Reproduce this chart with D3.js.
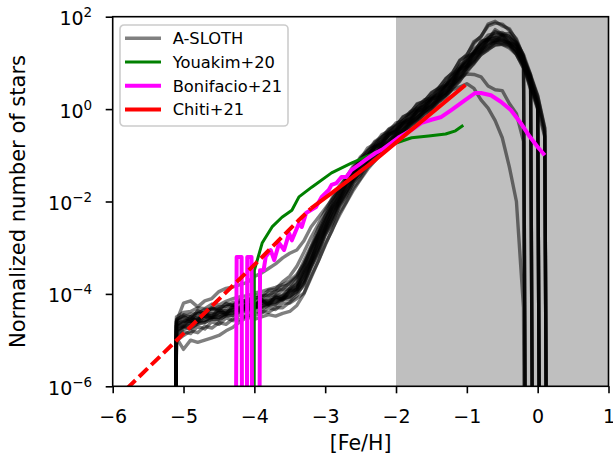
<!DOCTYPE html>
<html lang="en">
<head><meta charset="utf-8"/>
<style>
body { margin: 0; background: #fff; }
text { font-family: "DejaVu Sans", sans-serif; fill: #000; }
.sloth {
	fill: none;
	stroke: #000;
	stroke-opacity: 0.5;
	stroke-width: 3.4px;
	stroke-linejoin: round;
}
.obs { fill: none; stroke-linejoin: round; }
</style>
</head>
<body>
<svg id="chart" width="613" height="460"></svg>

<script src="https://cdn.jsdelivr.net/npm/d3@7"></script>
<script>

// bin centres of the A-SLOTH MDFs, [Fe/H]
var feh = [
	-5.2,-5.1,-5.0,-4.9,-4.8,-4.7,-4.6,-4.5,-4.4,-4.3,
	-4.2,-4.1,-4.0,-3.9,-3.8,-3.7,-3.6,-3.5,-3.4,-3.3,
	-3.2,-3.1,-3.0,-2.9,-2.8,-2.7,-2.6,-2.5,-2.4,-2.3,
	-2.2,-2.1,-2.0,-1.9,-1.8,-1.7,-1.6,-1.5,-1.4,-1.3,
	-1.2,-1.1,-1.0,-0.9,-0.8,-0.7,-0.6,-0.5,-0.4,-0.3,
	-0.2,-0.1,0.0,0.1,0.2];

// log10(normalized number of stars) per realisation, -30 = empty bin
var run01 = [-30,-4.6,-4.52,-4.55,-4.42,-4.45,-4.32,-4.38,-4.28,-4.25,
	-4.18,-4.22,-4.12,-4.15,-4.05,-4.02,-3.92,-3.88,-3.7,-3.42,
	-3.02,-2.72,-2.32,-2.08,-1.75,-1.55,-1.28,-1.12,-0.9,-0.8,
	-0.6,-0.52,-0.36,-0.3,-0.1,-0.02,0.14,0.22,0.4,0.5,
	0.72,0.86,1.1,1.22,1.45,1.52,1.68,1.6,1.58,1.38,
	1.12,-30,-30,-30,-30];
var run02 = [-30,-4.88,-4.72,-4.75,-4.65,-4.62,-4.55,-4.55,-4.48,-4.47,
	-4.38,-4.4,-4.3,-4.33,-4.25,-4.24,-4.12,-4.12,-3.98,-3.82,
	-3.42,-3.14,-2.72,-2.48,-2.1,-1.88,-1.58,-1.42,-1.18,-1.05,
	-0.86,-0.75,-0.58,-0.5,-0.33,-0.22,-0.06,0.02,0.2,0.3,
	0.5,0.65,0.9,1.02,1.22,1.32,1.45,1.42,1.4,1.18,
	0.88,-30,-30,-30,-30];
var run03 = [-30,-4.7,-4.6,-4.57,-4.56,-4.46,-4.52,-4.4,-4.4,-4.34,
	-4.3,-4.28,-4.24,-4.16,-4.21,-4.08,-4.1,-3.93,-3.84,-3.52,
	-3.22,-2.82,-2.52,-2.18,-1.92,-1.62,-1.44,-1.2,-1.02,-0.83,
	-0.72,-0.56,-0.47,-0.3,-0.22,-0.03,0.06,0.22,0.3,0.5,
	0.63,0.87,1.0,1.22,1.36,1.52,1.56,1.6,1.48,1.36,
	1.02,0.62,-30,-30,-30];
var run04 = [-30,-4.8,-4.68,-4.64,-4.58,-4.57,-4.5,-4.52,-4.43,-4.4,
	-4.33,-4.32,-4.28,-4.27,-4.2,-4.17,-4.08,-4.04,-3.88,-3.7,
	-3.3,-3.0,-2.6,-2.34,-1.98,-1.77,-1.48,-1.32,-1.08,-0.97,
	-0.78,-0.7,-0.53,-0.44,-0.28,-0.17,0.0,0.08,0.26,0.36,
	0.57,0.73,0.94,1.08,1.3,1.38,1.5,1.48,1.44,1.26,
	0.97,0.42,-30,-30,-30];
var run05 = [-30,-4.72,-4.62,-4.6,-4.54,-4.48,-4.47,-4.4,-4.42,-4.3,
	-4.32,-4.23,-4.24,-4.16,-4.17,-4.08,-4.04,-3.9,-3.8,-3.48,
	-3.17,-2.78,-2.47,-2.13,-1.9,-1.6,-1.42,-1.16,-1.02,-0.83,
	-0.74,-0.56,-0.47,-0.33,-0.24,-0.06,0.03,0.2,0.28,0.47,
	0.6,0.84,0.98,1.2,1.33,1.5,1.53,1.57,1.46,1.34,
	1.03,0.62,0.12,-30,-30];
var run06 = [-30,-4.92,-4.76,-4.74,-4.63,-4.62,-4.53,-4.57,-4.46,-4.47,
	-4.36,-4.37,-4.28,-4.3,-4.23,-4.22,-4.1,-4.07,-3.93,-3.77,
	-3.38,-3.07,-2.68,-2.4,-2.06,-1.82,-1.53,-1.37,-1.13,-1.0,
	-0.8,-0.72,-0.56,-0.47,-0.3,-0.2,-0.03,0.06,0.24,0.33,
	0.54,0.7,0.92,1.06,1.27,1.36,1.47,1.46,1.44,1.26,
	1.02,0.56,0.07,-30,-30];
var run07 = [-30,-4.64,-4.6,-4.5,-4.52,-4.43,-4.42,-4.36,-4.37,-4.28,
	-4.27,-4.2,-4.22,-4.13,-4.14,-4.03,-4.02,-3.88,-3.77,-3.43,
	-3.12,-2.73,-2.42,-2.08,-1.84,-1.56,-1.37,-1.13,-1.0,-0.8,
	-0.7,-0.53,-0.44,-0.28,-0.2,0.0,0.08,0.24,0.33,0.52,
	0.66,0.9,1.03,1.24,1.38,1.54,1.6,1.62,1.53,1.42,
	1.1,0.72,0.23,-0.48,-30];
var run08 = [-30,-4.78,-4.71,-4.63,-4.62,-4.5,-4.52,-4.46,-4.44,-4.38,
	-4.34,-4.3,-4.3,-4.2,-4.22,-4.13,-4.1,-3.98,-3.9,-3.6,
	-3.3,-2.9,-2.6,-2.26,-2.0,-1.7,-1.5,-1.26,-1.1,-0.9,
	-0.8,-0.63,-0.54,-0.38,-0.3,-0.1,-0.02,0.14,0.23,0.42,
	0.56,0.8,0.93,1.14,1.28,1.44,1.48,1.54,1.43,1.34,
	1.06,0.67,0.18,-0.57,-30];
var run09 = [-30,-4.55,-4.48,-4.44,-4.43,-4.33,-4.34,-4.28,-4.27,-4.18,
	-4.2,-4.1,-4.12,-4.03,-4.04,-3.93,-3.9,-3.76,-3.62,-3.28,
	-2.97,-2.58,-2.3,-1.96,-1.72,-1.46,-1.27,-1.03,-0.9,-0.7,
	-0.6,-0.43,-0.34,-0.18,-0.07,0.1,0.18,0.34,0.46,0.64,
	0.8,1.04,1.18,1.42,1.58,1.8,1.86,1.84,1.7,1.52,
	1.13,0.66,-30,-30,-30];
var run10 = [-30,-4.6,-4.2,-4.15,-4.28,-4.15,-4.1,-3.95,-3.88,-3.85,
	-3.8,-3.75,-3.62,-3.55,-3.45,-3.35,-3.22,-3.12,-3.05,-2.85,
	-2.55,-2.35,-2.15,-1.95,-1.75,-1.55,-1.35,-1.18,-1.0,-0.85,
	-0.7,-0.55,-0.45,-0.32,-0.2,-0.05,0.08,0.2,0.35,0.5,
	0.65,0.85,1.02,1.2,1.38,1.5,1.55,1.5,1.4,1.25,
	0.95,0.5,0.02,-30,-30];
var run11 = [-30,-4.95,-5.2,-5.0,-5.05,-5.0,-4.95,-4.9,-4.8,-4.72,
	-4.6,-4.5,-4.55,-4.5,-4.45,-4.48,-4.42,-4.38,-4.25,-4.0,
	-3.65,-3.3,-2.95,-2.6,-2.3,-2.02,-1.75,-1.52,-1.3,-1.12,
	-0.95,-0.8,-0.65,-0.52,-0.4,-0.25,-0.12,0.0,0.15,0.3,
	0.45,0.62,0.8,1.0,1.18,1.3,1.38,1.4,1.32,1.18,
	0.9,0.45,0.0,-0.6,-30];
var run12 = [-30,-4.82,-4.7,-4.68,-4.6,-4.58,-4.5,-4.5,-4.44,-4.42,
	-4.35,-4.33,-4.3,-4.26,-4.22,-4.18,-4.12,-4.05,-3.95,-3.72,
	-3.38,-3.02,-2.66,-2.33,-2.04,-1.78,-1.55,-1.33,-1.12,-0.97,
	-0.82,-0.68,-0.55,-0.42,-0.3,-0.18,-0.05,0.06,0.18,0.3,
	0.42,0.48,0.55,0.45,0.2,0.02,-0.25,-0.62,-1.25,-2.0,
	-4.3,-30,-30,-30,-30];
var run13 = [-30,-4.68,-4.58,-4.6,-4.5,-4.5,-4.42,-4.45,-4.36,-4.35,
	-4.28,-4.27,-4.2,-4.2,-4.14,-4.1,-4.05,-3.96,-3.86,-3.6,
	-3.25,-2.9,-2.55,-2.24,-1.94,-1.7,-1.44,-1.25,-1.04,-0.9,
	-0.74,-0.62,-0.48,-0.38,-0.24,-0.12,0.02,0.12,0.26,0.38,
	0.52,0.68,0.76,0.75,0.7,0.5,0.42,0.4,0.12,-0.1,
	-0.7,-30,-30,-30,-30];
var run14 = [-30,-4.62,-4.48,-4.58,-4.36,-4.42,-4.3,-4.36,-4.2,-4.26,
	-4.12,-4.18,-4.02,-4.06,-3.92,-3.9,-3.74,-3.62,-3.4,-3.1,
	-2.78,-2.5,-2.2,-1.92,-1.66,-1.48,-1.22,-1.08,-0.84,-0.76,
	-0.55,-0.48,-0.3,-0.26,-0.06,0.02,0.2,0.24,0.45,0.52,
	0.76,0.9,1.14,1.2,1.48,1.5,1.72,1.62,1.64,1.44,
	1.18,0.75,-30,-30,-30];
var run15 = [-30,-4.98,-4.82,-4.86,-4.7,-4.76,-4.6,-4.66,-4.52,-4.58,
	-4.44,-4.5,-4.36,-4.42,-4.3,-4.34,-4.2,-4.2,-4.1,-3.98,
	-3.62,-3.3,-2.92,-2.62,-2.25,-2.0,-1.7,-1.5,-1.26,-1.12,
	-0.9,-0.8,-0.62,-0.54,-0.36,-0.26,-0.1,-0.02,0.16,0.24,
	0.46,0.6,0.84,0.98,1.18,1.28,1.4,1.4,1.36,1.2,
	0.94,0.52,0.1,-30,-30];
var run16 = [-30,-4.68,-4.7,-4.5,-4.6,-4.4,-4.5,-4.32,-4.45,-4.26,
	-4.38,-4.2,-4.3,-4.12,-4.24,-4.05,-4.14,-3.94,-3.9,-3.55,
	-3.28,-2.86,-2.58,-2.2,-1.98,-1.64,-1.48,-1.18,-1.06,-0.82,
	-0.76,-0.54,-0.5,-0.3,-0.26,-0.04,0.0,0.22,0.26,0.48,
	0.55,0.86,0.92,1.2,1.26,1.5,1.46,1.6,1.42,1.4,
	1.0,0.7,0.28,-0.42,-30];
var run17 = [-30,-4.58,-4.45,-4.5,-4.38,-4.4,-4.3,-4.32,-4.22,-4.24,
	-4.14,-4.16,-4.08,-4.08,-3.98,-3.96,-3.84,-3.8,-3.64,-3.36,
	-3.0,-2.66,-2.36,-2.02,-1.8,-1.5,-1.34,-1.06,-0.96,-0.72,
	-0.64,-0.44,-0.38,-0.16,-0.1,0.12,0.16,0.36,0.44,0.66,
	0.78,1.06,1.16,1.46,1.56,1.84,1.9,1.8,1.74,1.48,
	1.16,-30,-30,-30,-30];
var run18 = [-30,-5.02,-4.9,-4.8,-4.84,-4.7,-4.74,-4.62,-4.66,-4.54,
	-4.56,-4.46,-4.48,-4.38,-4.4,-4.3,-4.3,-4.18,-4.04,-3.78,
	-3.44,-3.1,-2.74,-2.44,-2.12,-1.86,-1.6,-1.4,-1.16,-1.04,
	-0.84,-0.74,-0.58,-0.46,-0.32,-0.18,-0.06,0.1,0.2,0.38,
	0.52,0.74,0.88,1.12,1.24,1.42,1.44,1.5,1.38,1.28,
	0.98,0.6,0.04,-30,-30];
var run19 = [-30,-4.5,-4.4,-4.38,-4.3,-4.32,-4.22,-4.24,-4.16,-4.1,
	-4.06,-4.04,-3.98,-3.95,-3.9,-3.86,-3.8,-3.72,-3.58,-3.35,
	-3.05,-2.72,-2.42,-2.12,-1.86,-1.6,-1.4,-1.16,-1.0,-0.8,
	-0.68,-0.5,-0.42,-0.24,-0.16,0.04,0.1,0.28,0.36,0.56,
	0.68,0.94,1.06,1.3,1.42,1.6,1.64,1.66,1.56,1.44,
	1.12,0.74,0.3,-0.4,-30];
var runs = [run01, run02, run03, run04, run05, run06, run07, run08, run09, run10,
	run11, run12, run13, run14, run15, run16, run17, run18, run19];

// Youakim+20
var youFeh = [-4.02,-4.0,-3.89,-3.75,-3.61,-3.47,-3.37,-3.19,-2.91,-2.63,
	-2.2,-2.01,-1.78,-1.54,-1.3,-1.16,-1.05];
var youLog = [-30,-3.49,-2.9,-2.55,-2.34,-2.19,-1.9,-1.69,-1.38,-1.17,
	-0.88,-0.74,-0.62,-0.58,-0.54,-0.47,-0.35];

// Bonifacio+21
var bonFeh = [-4.32,-4.25,-4.18,-4.14,-4.1,-4.04,-3.98,-3.92,-3.87,-3.84,
	-3.77,-3.72,-3.65,-3.58,-3.51,-3.47,-3.37,-3.33,-3.27,-3.13,
	-3.05,-2.95,-2.91,-2.84,-2.77,-2.7,-2.63,-2.53,-2.43,-2.29,
	-2.2,-1.97,-1.78,-1.64,-1.5,-1.36,-1.22,-1.02,-0.88,-0.8,
	-0.66,-0.52,-0.38,-0.24,-0.11,0.0,0.1];
var bonLog = [-30,-3.2,-3.2,-30,-3.2,-3.2,-30,-3.49,-3.49,-3.2,
	-3.05,-3.27,-2.9,-3.05,-2.69,-2.84,-2.47,-2.55,-2.25,-2.12,
	-1.9,-1.75,-1.64,-1.6,-1.47,-1.47,-1.32,-1.21,-1.1,-0.95,
	-0.88,-0.62,-0.45,-0.3,-0.23,-0.17,-0.02,0.2,0.35,0.35,
	0.3,0.16,-0.02,-0.3,-0.6,-0.82,-1.0];

// Chiti+21, dashed below chitiSplit
var chitiFeh = [-5.8,-3.98,-3.37,-3.2,-2.91,-2.35,-1.02];
var chitiLog = [-6.05,-3.34,-2.4,-2.15,-1.82,-1.17,0.52];
var chitiSplit = -3.2;

var xTicks = [-6,-5,-4,-3,-2,-1,0,1];
var yTicks = [-6,-4,-2,0,2];
var shade = [-2, 1];
var legendLabels = ["A-SLOTH", "Youakim+20", "Bonifacio+21", "Chiti+21"];
var legendColors = ["#808080", "green", "magenta", "red"];
var legendWidths = [3.4, 3, 4, 4];

var svg = d3.select("#chart"),
    margin = {top: 16.7, right: 4.5, bottom: 73.7, left: 112.7},
    width = +svg.attr("width") - margin.left - margin.right,
    height = +svg.attr("height") - margin.top - margin.bottom;

var x = d3.scaleLinear().domain([-6, 1]).range([0, width]),
    y = d3.scaleLog().domain([1e-6, 1e2]).range([height, 0]);

var line = d3.line()
	.x(d => x(d[0]))
	.y(d => y(Math.pow(10, d[1])));

var g = svg.append("g")
	.attr("transform", "translate(" + margin.left + "," + margin.top + ")");

g.append("clipPath").attr("id", "clip")
	.append("rect").attr("width", width).attr("height", height);

g.append("rect")
	.attr("x", x(shade[0])).attr("y", 0)
	.attr("width", x(shade[1]) - x(shade[0])).attr("height", height)
	.attr("fill", "#bfbfbf");

var plot = g.append("g").attr("clip-path", "url(#clip)");

runs.forEach(function(r){
	plot.append("path").attr("class", "sloth")
		.attr("d", line(feh.map((f, i) => [f, r[i]])));
});

plot.append("path").attr("class", "obs")
	.attr("stroke", "green").attr("stroke-width", 3)
	.attr("d", line(d3.zip(youFeh, youLog)));

plot.append("path").attr("class", "obs")
	.attr("stroke", "magenta").attr("stroke-width", 4)
	.attr("d", line(d3.zip(bonFeh, bonLog)));

var chiti = d3.zip(chitiFeh, chitiLog);
plot.append("path").attr("class", "obs")
	.attr("stroke", "red").attr("stroke-width", 4)
	.attr("stroke-dasharray", "12,5")
	.attr("d", line(chiti.filter(d => d[0] <= chitiSplit)));
plot.append("path").attr("class", "obs")
	.attr("stroke", "red").attr("stroke-width", 4)
	.attr("d", line(chiti.filter(d => d[0] >= chitiSplit)));

// axes
var axX = g.append("g")
	.attr("transform", "translate(0," + height + ")")
	.call(d3.axisBottom(x).tickValues(xTicks).tickSize(7)
		.tickFormat(d => d < 0 ? "\u2212" + (-d) : d));
axX.selectAll("text").attr("y", 36.5).attr("dy", null)
	.style("font-size", "19px").attr("fill", "#000");

var axY = g.append("g")
	.call(d3.axisLeft(y).tickValues(yTicks.map(e => Math.pow(10, e)))
		.tickSize(7).tickFormat(""));
axY.selectAll(".tick").each(function(d, i){
	var t = d3.select(this).append("text")
		.attr("x", -20.5).attr("y", 8)
		.attr("text-anchor", "end")
		.style("font-size", "19px");
	t.append("tspan").text("10");
	t.append("tspan").attr("dy", -8).style("font-size", "13.5px")
		.text(yTicks[i] < 0 ? "\u2212" + (-yTicks[i]) : yTicks[i]);
});

[axX, axY].forEach(function(a){
	a.select(".domain").remove();
	a.selectAll(".tick line").attr("stroke", "#000").attr("stroke-width", 1.6);
});

g.append("rect")
	.attr("width", width).attr("height", height)
	.attr("fill", "none").attr("stroke", "#000").attr("stroke-width", 1.6);

svg.append("text")
	.attr("x", margin.left + width / 2).attr("y", 450)
	.attr("text-anchor", "middle").style("font-size", "20.5px")
	.text("[Fe/H]");

svg.append("text")
	.attr("transform", "translate(25," + (margin.top + height / 2) + ") rotate(-90)")
	.attr("text-anchor", "middle").style("font-size", "21px")
	.text("Normalized number of stars");

// legend
var leg = svg.append("g").attr("transform", "translate(120,25)");
leg.append("rect")
	.attr("width", 168).attr("height", 101).attr("rx", 4)
	.attr("fill", "#fff").attr("fill-opacity", 0.8)
	.attr("stroke", "#cccccc").attr("stroke-width", 1.6);
legendLabels.forEach(function(lab, i){
	var yy = 13.3 + i * 23.7;
	leg.append("line")
		.attr("x1", 5).attr("x2", 41).attr("y1", yy).attr("y2", yy)
		.attr("stroke", legendColors[i]).attr("stroke-width", legendWidths[i]);
	leg.append("text")
		.attr("x", 52.7).attr("y", yy + 5.8)
		.style("font-size", "16.3px")
		.text(lab);
});

</script>
</body>
</html>
